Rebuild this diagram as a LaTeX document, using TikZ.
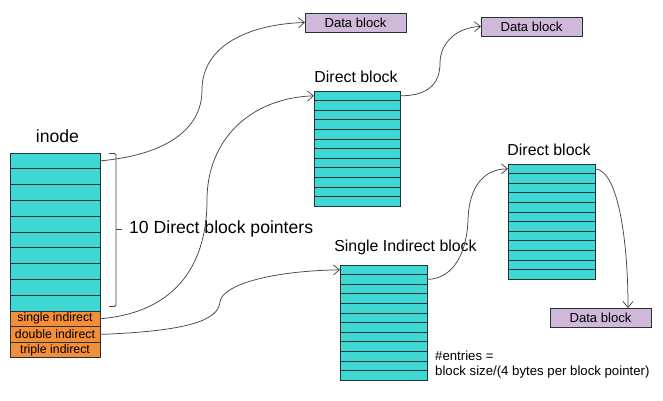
\documentclass[tikz,border=0pt]{standalone}
\usepackage{fontspec}
\setmainfont{Liberation Sans}
\usetikzlibrary{arrows.meta,calc}
\definecolor{cyanfill}{RGB}{64,216,212}
\definecolor{orangefill}{RGB}{245,142,56}
\definecolor{lavfill}{RGB}{207,184,217}
\definecolor{rowline}{RGB}{35,50,50}
\definecolor{wire}{RGB}{70,70,70}
\begin{document}
\begin{tikzpicture}[x=1pt,y=-1pt,
  irow/.style={draw=rowline, line width=0.7pt, fill=cyanfill, minimum width=90pt, minimum height=15.8pt, inner sep=0pt, outer sep=0pt, anchor=north west},
  orow/.style={draw=rowline, line width=0.7pt, fill=orangefill, minimum width=90pt, minimum height=15.6pt, inner sep=0pt, outer sep=0pt, anchor=north west, font=\fontsize{12.3}{14}\selectfont},
  brow/.style={draw=rowline, line width=0.7pt, fill=cyanfill, minimum width=#1, minimum height=9.6pt, inner sep=0pt, outer sep=0pt, anchor=north west},
  datab/.style={draw=rowline, line width=0.7pt, fill=lavfill, minimum width=101pt, minimum height=19pt, inner sep=0pt, outer sep=0pt, font=\fontsize{13.1}{15}\selectfont},
  biglabel/.style={inner sep=0pt, font=\fontsize{17.6}{20}\selectfont},
  midlabel/.style={inner sep=0pt, font=\fontsize{15.9}{18}\selectfont},
  smalllabel/.style={inner sep=0pt, font=\fontsize{13.2}{16}\selectfont, anchor=west},
  wire/.style={draw=wire, line width=0.75pt, -{Straight Barb[length=6pt,width=10pt]}},
  bracket/.style={draw=wire, line width=0.75pt, rounded corners=1.5pt}
]
\useasboundingbox (0,0) rectangle (663,400);
% inode
\foreach \i in {1,...,10} \node[irow] (in\i) at (10,{153+(\i-1)*15.8}) {};
\node[orow] (sgl) at (10,311) {single indirect};
\node[orow] (dbl) at (10,326.6) {double indirect};
\node[orow] (tpl) at (10,342.2) {triple indirect};
\node[biglabel] (inodelbl) at (57.5,136) {inode};
% bracket
\draw[bracket] (109,153.5) -- (116,153.5) -- (116,306.5) -- (109,306.5);
\draw[bracket] (116,229) -- (122,229);
\node[biglabel, anchor=west] (ptrlbl) at (129,229) {10 Direct block pointers};
% direct block 1
\foreach \i in {1,...,12} \node[brow=86pt] (da\i) at (314,{91+(\i-1)*9.6}) {};
\node[midlabel] (dalbl) at (356,77) {Direct block};
% single indirect block
\foreach \i in {1,...,12} \node[brow=87pt] (sa\i) at (340,{265+(\i-1)*9.6}) {};
\node[midlabel] (salbl) at (405.5,247) {Single Indirect block};
% direct block 2
\foreach \i in {1,...,12} \node[brow=87pt] (dc\i) at (508,{164+(\i-1)*9.6}) {};
\node[midlabel] (dclbl) at (549,150) {Direct block};
% data blocks
\node[datab] (dat1) at (355.5,22.5) {Data block};
\node[datab] (dat2) at (531.5,26.5) {Data block};
\node[datab] (dat3) at (600.5,317.5) {Data block};
% note
\node[smalllabel] (note1) at (435,356) {\#entries =};
\node[smalllabel] (note2) at (435,372) {block size/(4 bytes per block pointer)};
% connectors
\draw[wire] (in1.east) .. controls (165,155) and (202,130) .. (202,90) .. controls (202,45) and (250,24) .. (dat1.west);
\draw[wire] (sgl.east) .. controls (180,312) and (207,260) .. (207,200) .. controls (207,140) and (250,98) .. (da1.west);
\draw[wire] (dbl.east) .. controls (190,331) and (218,320) .. (220,302) .. controls (222,285) and (270,271) .. (sa1.west);
\draw[wire] (da1.east) .. controls (430,96) and (440,82) .. (440,63) .. controls (440,42) and (458,27) .. (dat2.west);
\draw[wire] (sa2.east) .. controls (455,279) and (467,250) .. (468,220) .. controls (469,185) and (485,169) .. (dc1.west);
\draw[wire] (dc1.east) .. controls (618,170) and (628,240) .. ([xshift=27.5pt]dat3.north);
\end{tikzpicture}
\end{document}
